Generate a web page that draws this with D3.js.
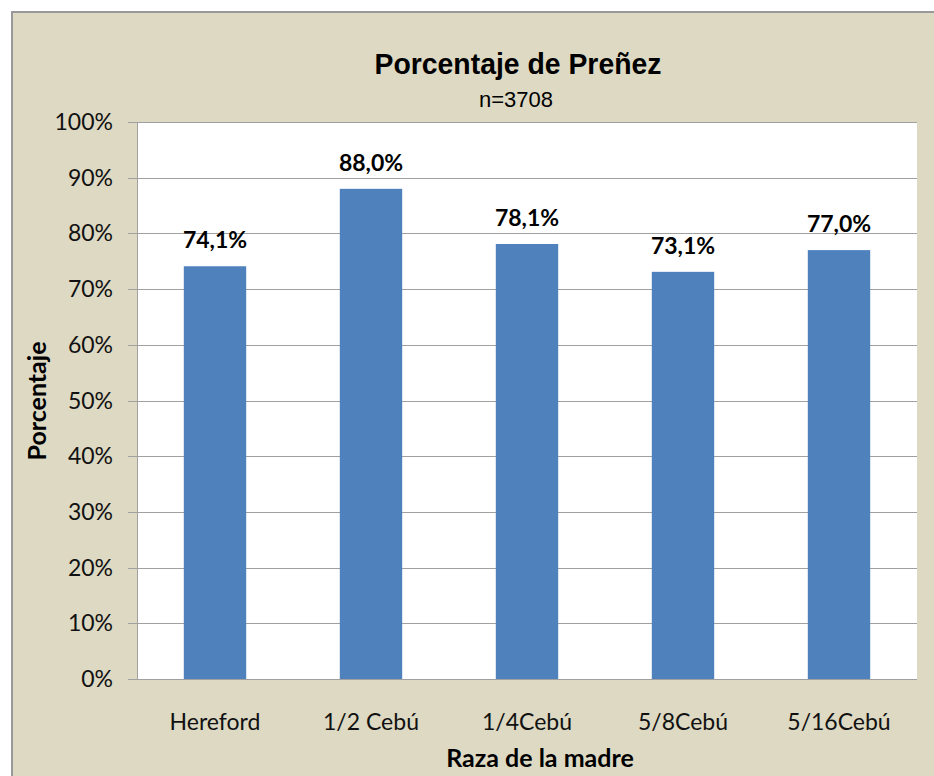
<!DOCTYPE html>
<html>
<head>
  <meta charset="utf-8">
  <script src="https://cdn.jsdelivr.net/npm/d3@7"></script>
  <style>
    body { margin: 0; background: #fff; }
    svg { display: block; }
  </style>
</head>
<body>
  <svg id="chart" width="934" height="776"></svg>
  <script>
    // datos del gráfico
    var razas = ["Hereford", "1/2 Cebú", "1/4Cebú", "5/8Cebú", "5/16Cebú"];
    var porcentajes = [74.1, 88.0, 78.1, 73.1, 77.0];
    var ticksY = [0, 10, 20, 30, 40, 50, 60, 70, 80, 90, 100];

    var svg = d3.select("#chart");

    // fondo del área del gráfico
    svg.append("rect")
      .attr("x", 12).attr("y", 12)
      .attr("width", 940).attr("height", 790)
      .attr("fill", "#DDD9C3")
      .attr("stroke", "#999999")
      .attr("stroke-width", 2);

    // (ojo: "top" choca con window.top)
    var pLeft = 137, pRight = 917, pTop = 122, pBottom = 679;

    // área de trazado
    svg.append("rect")
      .attr("x", pLeft).attr("y", pTop)
      .attr("width", pRight - pLeft).attr("height", pBottom - pTop)
      .attr("fill", "#ffffff");

    var x = d3.scaleBand()
      .domain(razas)
      .range([pLeft, pRight])
      .paddingInner(0.6)
      .paddingOuter(0.3);

    var y = d3.scaleLinear()
      .domain([0, 100])
      .range([pBottom, pTop]);

    // líneas de cuadrícula
    svg.append("g")
      .selectAll("line")
      .data(ticksY)
      .enter()
      .append("line")
      .attr("x1", pLeft - 9)
      .attr("x2", pRight)
      .attr("y1", function(d) { return Math.round(y(d)) + 0.5; })
      .attr("y2", function(d) { return Math.round(y(d)) + 0.5; })
      .attr("stroke", "#A0A0A0")
      .attr("stroke-width", 1);

    // eje vertical
    svg.append("line")
      .attr("x1", pLeft + 0.5).attr("x2", pLeft + 0.5)
      .attr("y1", pTop).attr("y2", pBottom)
      .attr("stroke", "#A0A0A0");

    // etiquetas del eje Y
    svg.append("g")
      .selectAll("text")
      .data(ticksY)
      .enter()
      .append("text")
      .attr("x", 113)
      .attr("y", function(d) { return y(d) + 8; })
      .attr("text-anchor", "end")
      .style("font-family", "Lato, 'Noto Sans', sans-serif")
      .style("font-size", "23px")
      .attr("fill", "#111")
      .text(function(d) { return d + "%"; });

    // barras
    svg.append("g")
      .selectAll("rect")
      .data(porcentajes)
      .enter()
      .append("rect")
      .attr("x", function(d, i) { return x(razas[i]); })
      .attr("y", function(d) { return y(d); })
      .attr("width", x.bandwidth())
      .attr("height", function(d) { return pBottom - y(d); })
      .attr("fill", "#4F81BD");

    // etiquetas de datos
    svg.append("g")
      .selectAll("text")
      .data(porcentajes)
      .enter()
      .append("text")
      .attr("x", function(d, i) { return x(razas[i]) + x.bandwidth() / 2; })
      .attr("y", function(d) { return y(d) - 18; })
      .attr("text-anchor", "middle")
      .style("font-family", "Lato, 'Noto Sans', sans-serif")
      .style("font-size", "23px")
      .style("font-weight", "bold")
      .attr("fill", "#000")
      .text(function(d) { return d.toFixed(1).replace(".", ",") + "%"; });

    // etiquetas del eje X
    svg.append("g")
      .selectAll("text")
      .data(razas)
      .enter()
      .append("text")
      .attr("x", function(d) { return x(d) + x.bandwidth() / 2; })
      .attr("y", 730)
      .attr("text-anchor", "middle")
      .style("font-family", "Lato, 'Noto Sans', sans-serif")
      .style("font-size", "23px")
      .attr("fill", "#111")
      .text(function(d) { return d; });

    // títulos
    svg.append("text")
      .attr("x", 518).attr("y", 74)
      .attr("text-anchor", "middle")
      .attr("textLength", 287)
      .attr("lengthAdjust", "spacingAndGlyphs")
      .style("font-family", "'Liberation Sans', Arial, sans-serif")
      .style("font-size", "30px")
      .style("font-weight", "bold")
      .text("Porcentaje de Preñez");

    svg.append("text")
      .attr("x", 516).attr("y", 107)
      .attr("text-anchor", "middle")
      .style("font-family", "'Liberation Sans', Arial, sans-serif")
      .style("font-size", "22px")
      .text("n=3708");

    svg.append("text")
      .attr("x", 540).attr("y", 767)
      .attr("text-anchor", "middle")
      .style("font-family", "Lato, 'Noto Sans', sans-serif")
      .style("font-size", "25px")
      .style("font-weight", "bold")
      .text("Raza de la madre");

    svg.append("text")
      .attr("transform", "translate(46,401) rotate(-90)")
      .attr("text-anchor", "middle")
      .style("font-family", "Lato, 'Noto Sans', sans-serif")
      .style("font-size", "25px")
      .style("font-weight", "bold")
      .text("Porcentaje");
  </script>
</body>
</html>
